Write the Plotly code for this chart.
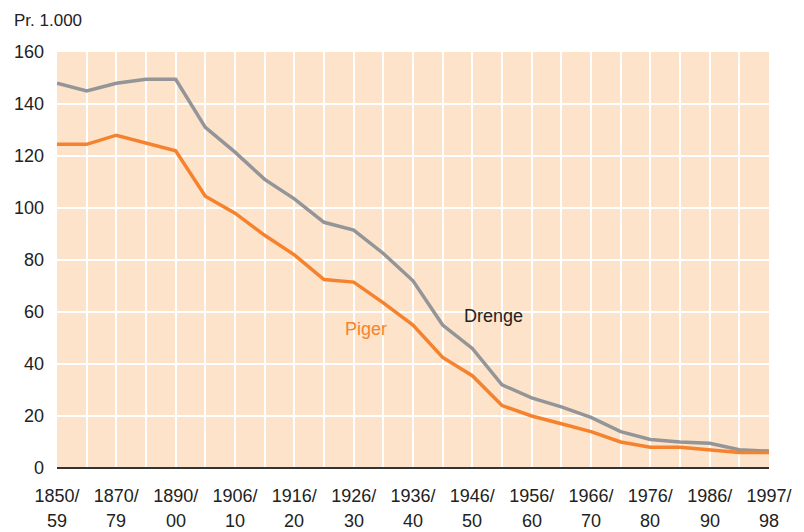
import plotly.graph_objects as go

periods = ["1850/59", "1860/69", "1870/79", "1880/89", "1890/00", "1901/05", "1906/10",
           "1911/15", "1916/20", "1921/25", "1926/30", "1931/35", "1936/40", "1941/45",
           "1946/50", "1951/55", "1956/60", "1961/65", "1966/70", "1971/75", "1976/80",
           "1981/85", "1986/90", "1991/95", "1997/98"]
drenge = [148, 145, 148, 149.5, 149.5, 131, 121.5, 111, 103.5, 94.5, 91.5, 82.5, 72,
          55, 46, 32, 27, 23.5, 19.5, 14, 11, 10, 9.5, 7, 6.5]
piger = [124.5, 124.5, 128, 125, 122, 104.5, 98, 89.5, 82, 72.5, 71.5, 63.5, 55,
         42.5, 35.5, 24, 20, 17, 14, 10, 8, 8, 7, 6, 6]
tick_top = ["1850/", "1870/", "1890/", "1906/", "1916/", "1926/", "1936/", "1946/",
            "1956/", "1966/", "1976/", "1986/", "1997/"]
tick_bottom = ["59", "79", "00", "10", "20", "30", "40", "50", "60", "70", "80", "90", "98"]
tick_idx = list(range(0, 25, 2))
y_ticks = [0, 20, 40, 60, 80, 100, 120, 140, 160]

xs = list(range(len(periods)))
font = "Liberation Sans, Arial, sans-serif"
gray = "#939598"
orange = "#F5822F"
txt = "#222222"

fig = go.Figure()
fig.add_trace(go.Scatter(x=xs, y=drenge, mode="lines", name="Drenge",
                         line=dict(color=gray, width=3.5), hoverinfo="skip",
                         text=periods))
fig.add_trace(go.Scatter(x=xs, y=piger, mode="lines", name="Piger",
                         line=dict(color=orange, width=3.5), hoverinfo="skip",
                         text=periods))

annotations = []
annotations.append(dict(text="Pr. 1.000", xref="paper", yref="paper", x=(12 - 57) / 714,
                        y=1 + 32 / 416, xanchor="left", yanchor="middle", showarrow=False,
                        font=dict(family=font, size=17, color=txt)))
annotations.append(dict(text="Piger", x=10.42, y=53.5, xref="x", yref="y", showarrow=False,
                        xanchor="center", yanchor="middle",
                        font=dict(family=font, size=18, color=orange)))
annotations.append(dict(text="Drenge", x=14.7, y=58.5, xref="x", yref="y", showarrow=False,
                        xanchor="center", yanchor="middle",
                        font=dict(family=font, size=18, color=txt)))
for i, t in zip(tick_idx, tick_bottom):
    annotations.append(dict(text=t, x=i, y=-53 / 416, xref="x", yref="paper", showarrow=False,
                            xanchor="center", yanchor="middle",
                            font=dict(family=font, size=18, color=txt)))

fig.update_layout(
    width=804, height=532,
    margin=dict(l=57, r=33, t=52, b=64),
    paper_bgcolor="white",
    plot_bgcolor="#FDE3C9",
    showlegend=False,
    annotations=annotations,
    font=dict(family=font, size=18, color=txt),
    xaxis=dict(range=[0, 24], tickmode="array", tickvals=tick_idx, ticktext=tick_top,
               showgrid=True, gridcolor="white", gridwidth=2,
               minor=dict(tickmode="array", tickvals=xs, showgrid=True,
                          gridcolor="white", gridwidth=2),
               zeroline=False, showline=False, ticks="", ticklabelstandoff=15,
               tickfont=dict(family=font, size=18, color=txt), fixedrange=True),
    yaxis=dict(range=[0, 160], tickmode="array", tickvals=y_ticks,
               showgrid=True, gridcolor="white", gridwidth=2,
               zeroline=True, zerolinecolor="#333333", zerolinewidth=1.5,
               showline=False, ticks="", ticklabelstandoff=12,
               tickfont=dict(family=font, size=18, color=txt), fixedrange=True),
)

fig.write_html("out.html", config={"displayModeBar": False},
               post_script="document.body.style.margin='0';")
